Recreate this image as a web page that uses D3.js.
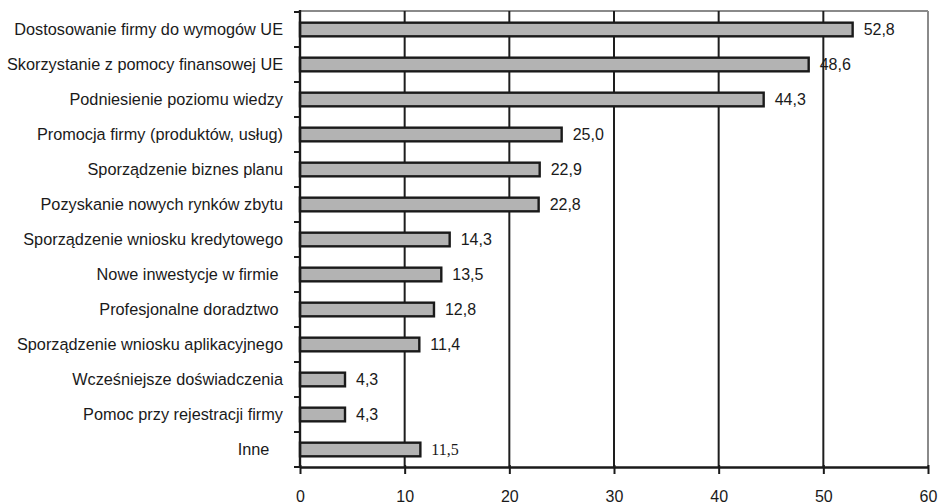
<!DOCTYPE html>
<html lang="pl">
<head>
<meta charset="UTF-8">
<title>Wykres</title>
<script src="https://cdn.jsdelivr.net/npm/d3@7"></script>
<style>
  body { margin: 0; background: #fff; }
  text { font-family: "Liberation Sans", Arial, sans-serif; white-space: pre; }
</style>
</head>
<body>
<svg width="939" height="502"></svg>
<script>
// dane
var categories = [
  "Dostosowanie firmy do wymogów UE",
  "Skorzystanie z pomocy finansowej UE",
  "Podniesienie poziomu wiedzy",
  "Promocja firmy (produktów, usług)",
  "Sporządzenie biznes planu",
  "Pozyskanie nowych rynków zbytu",
  "Sporządzenie wniosku kredytowego",
  "Nowe inwestycje w firmie ",
  "Profesjonalne doradztwo ",
  "Sporządzenie wniosku aplikacyjnego",
  "Wcześniejsze doświadczenia",
  "Pomoc przy rejestracji firmy",
  "Inne   "
];
var values = [52.8, 48.6, 44.3, 25.0, 22.9, 22.8, 14.3, 13.5, 12.8, 11.4, 4.3, 4.3, 11.5];
var valueLabels = ["52,8", "48,6", "44,3", "25,0", "22,9", "22,8", "14,3", "13,5", "12,8", "11,4", "4,3", "4,3", "11,5"];
var xTicks = [0, 10, 20, 30, 40, 50, 60];

var svg = d3.select("svg");
var pLeft = 300, pRight = 928, pTop = 12, pBottom = 467;

var x = d3.scaleLinear().domain([0, 60]).range([pLeft, pRight]);
var y = d3.scaleBand().domain(d3.range(categories.length)).range([pTop, pBottom]);
var barH = y.bandwidth() * 0.39;

// ramka (góra, prawa) szara
svg.append("line").attr("x1", pLeft).attr("x2", pRight).attr("y1", pTop - 1).attr("y2", pTop - 1)
  .attr("stroke", "#8a8a8a").attr("stroke-width", 2);
svg.append("line").attr("x1", pRight).attr("x2", pRight).attr("y1", pTop - 1).attr("y2", pBottom)
  .attr("stroke", "#8a8a8a").attr("stroke-width", 2);

// linie siatki
svg.selectAll(".grid").data(xTicks.slice(1, -1)).enter().append("line")
  .attr("x1", function(d){ return x(d); })
  .attr("x2", function(d){ return x(d); })
  .attr("y1", pTop - 1).attr("y2", pBottom)
  .attr("stroke", "#1e1e1e").attr("stroke-width", 2);

// słupki
svg.selectAll(".bar").data(values).enter().append("rect")
  .attr("x", x(0))
  .attr("y", function(d, i){ return y(i) + (y.bandwidth() - barH) / 2; })
  .attr("width", function(d){ return x(d) - x(0); })
  .attr("height", barH)
  .attr("fill", "#b3b3b3")
  .attr("stroke", "#1a1a1a")
  .attr("stroke-width", 2.4);

// etykiety wartości
svg.selectAll(".val").data(values).enter().append("text")
  .attr("x", function(d){ return x(d) + 11; })
  .attr("y", function(d, i){ return y(i) + y.bandwidth() / 2; })
  .attr("dy", "0.36em")
  .attr("font-size", "16px")
  .attr("fill", "#1a1a1a")
  .style("font-family", function(d, i){ return i === values.length - 1 ? "'Liberation Serif', 'Times New Roman', serif" : null; })
  .text(function(d, i){ return valueLabels[i]; });

// oś Y
var gy = svg.append("g").attr("transform", "translate(" + pLeft + ",0)");
gy.append("line").attr("x1", 0).attr("x2", 0).attr("y1", pTop - 2).attr("y2", pBottom + 1)
  .attr("stroke", "#1a1a1a").attr("stroke-width", 2.4);
gy.selectAll(".ytick").data(d3.range(categories.length + 1)).enter().append("line")
  .attr("x1", -6).attr("x2", 0)
  .attr("y1", function(d){ return pTop + d * y.step(); })
  .attr("y2", function(d){ return pTop + d * y.step(); })
  .attr("stroke", "#1a1a1a").attr("stroke-width", 2);
gy.selectAll(".ylab").data(categories).enter().append("text")
  .attr("x", -17)
  .attr("y", function(d, i){ return y(i) + y.bandwidth() / 2; })
  .attr("dy", "0.36em")
  .attr("text-anchor", "end")
  .attr("font-size", "16.3px")
  .attr("fill", "#1a1a1a")
  .text(function(d){ return d; });

// oś X
var xAxis = d3.axisBottom(x).tickValues(xTicks).tickSize(7).tickSizeOuter(0)
  .tickFormat(function(d){ return d; });
var gx = svg.append("g").attr("transform", "translate(0," + pBottom + ")").call(xAxis);
gx.select(".domain").attr("stroke", "#1a1a1a").attr("stroke-width", 2.4);
gx.selectAll(".tick line").attr("stroke", "#1a1a1a").attr("stroke-width", 2).attr("y1", -2);
gx.selectAll(".tick text")
  .attr("y", 35).attr("dy", 0)
  .attr("font-size", "16px")
  .attr("fill", "#1a1a1a")
  .style("font-family", "'Liberation Sans', Arial, sans-serif");
</script>
</body>
</html>
